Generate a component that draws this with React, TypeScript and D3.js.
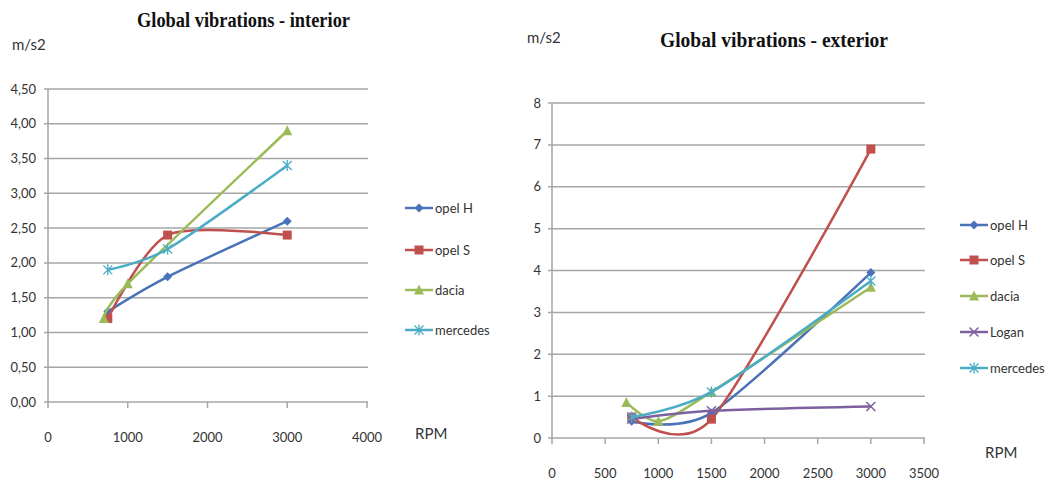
import React from "react";
import * as d3 from "d3";

const seriesNames = ["opel H", "opel S", "dacia", "Logan", "mercedes"];
const seriesColors = ["#4a72b8", "#c0504d", "#9bbb59", "#7d60a0", "#4bacc6"];
const seriesMarkers = ["diamond", "square", "triangle", "x", "star"];

// interior
const intOpelH = [[750, 1.3], [1500, 1.8], [3000, 2.6]];
const intOpelS = [[750, 1.2], [1500, 2.4], [3000, 2.4]];
const intDacia = [[700, 1.2], [1000, 1.7], [3000, 3.9]];
const intMercedes = [[750, 1.9], [1500, 2.2], [3000, 3.4]];
const intYTicks = [0, 0.5, 1, 1.5, 2, 2.5, 3, 3.5, 4, 4.5];
const intXTicks = [0, 1000, 2000, 3000, 4000];

// exterior
const extOpelH = [[750, 0.4], [1500, 0.6], [3000, 3.95]];
const extOpelS = [[750, 0.5], [1500, 0.45], [3000, 6.9]];
const extDacia = [[700, 0.85], [1000, 0.4], [1500, 1.1], [3000, 3.6]];
const extLogan = [[750, 0.45], [1500, 0.65], [3000, 0.75]];
const extMercedes = [[750, 0.5], [1500, 1.1], [3000, 3.75]];
const extYTicks = [0, 1, 2, 3, 4, 5, 6, 7, 8];
const extXTicks = [0, 500, 1000, 1500, 2000, 2500, 3000, 3500];

const tickFont = "Lato, 'Open Sans', sans-serif";
const titleFont = "'Liberation Serif', 'DejaVu Serif', serif";

function Marker({ type, x, y, color }: { type: string; x: number; y: number; color: string }) {
  const s = 4.5;
  if (type === "diamond")
    return <path d={`M${x},${y - s}L${x + s},${y}L${x},${y + s}L${x - s},${y}Z`} fill={color} />;
  if (type === "square")
    return <rect x={x - s} y={y - s} width={2 * s} height={2 * s} fill={color} />;
  if (type === "triangle")
    return <path d={`M${x},${y - s - 1}L${x + s + 0.5},${y + s}L${x - s - 0.5},${y + s}Z`} fill={color} />;
  if (type === "x")
    return (
      <path d={`M${x - s},${y - s}L${x + s},${y + s}M${x - s},${y + s}L${x + s},${y - s}`} stroke={color} strokeWidth={1.5} />
    );
  return (
    <path
      d={`M${x - s},${y - s}L${x + s},${y + s}M${x - s},${y + s}L${x + s},${y - s}M${x},${y - s - 1}L${x},${y + s + 1}`}
      stroke={color}
      strokeWidth={1.3}
    />
  );
}

type Series = { name: string; data: number[][]; idx: number };

function Chart(props: {
  x0: number; x1: number; y0: number; y1: number;
  xMax: number; yMax: number; xTicks: number[]; yTicks: number[];
  yFmt: (v: number) => string; series: Series[];
  title: string; titleX: number; titleY: number; titleW: number;
  unitX: number; unitY: number; legendX: number; legendYs: number[];
  rpmX: number; rpmY: number; xLabelY: number; yLabelX: number; gridRight: number;
}) {
  const x = d3.scaleLinear().domain([0, props.xMax]).range([props.x0, props.x1]);
  const y = d3.scaleLinear().domain([0, props.yMax]).range([props.y0, props.y1]);
  const line = d3
    .line<number[]>()
    .x((d) => x(d[0]))
    .y((d) => y(d[1]))
    .curve(d3.curveCardinal.tension(0.2));
  return (
    <g>
      <text x={props.titleX} y={props.titleY} fontFamily={titleFont} fontWeight="bold" fontSize={20}
        textLength={props.titleW} lengthAdjust="spacingAndGlyphs" fill="#111">{props.title}</text>
      <text x={props.unitX} y={props.unitY} fontFamily={tickFont} fontSize={15} fill="#333">m/s2</text>
      {props.yTicks.map((t) => (
        <g key={t}>
          <line x1={props.x0 - 4} x2={props.gridRight} y1={y(t)} y2={y(t)} stroke="#a6a6a6" strokeWidth={1.5} />
          <text x={props.yLabelX} y={y(t) + 4.5} textAnchor="end" fontFamily={tickFont} fontSize={13} fill="#333">
            {props.yFmt(t)}
          </text>
        </g>
      ))}
      <line x1={props.x0} x2={props.x0} y1={props.y0} y2={y(props.yMax)} stroke="#a6a6a6" strokeWidth={1.5} />
      {props.xTicks.map((t) => (
        <g key={t}>
          <line x1={x(t)} x2={x(t)} y1={props.y0} y2={props.y0 + 6} stroke="#a6a6a6" strokeWidth={1.5} />
          <text x={x(t)} y={props.xLabelY} textAnchor="middle" fontFamily={tickFont} fontSize={13} fill="#333">{t}</text>
        </g>
      ))}
      <text x={props.rpmX} y={props.rpmY} fontFamily={tickFont} fontSize={15} fill="#333">RPM</text>
      {props.series.map((s) => (
        <g key={s.name}>
          <path d={line(s.data) || ""} fill="none" stroke={seriesColors[s.idx]} strokeWidth={2.5} />
          {s.data.map((d, i) => (
            <Marker key={i} type={seriesMarkers[s.idx]} x={x(d[0])} y={y(d[1])} color={seriesColors[s.idx]} />
          ))}
        </g>
      ))}
      {props.series.map((s, i) => (
        <g key={"l" + s.name}>
          <line x1={props.legendX} x2={props.legendX + 28} y1={props.legendYs[i]} y2={props.legendYs[i]}
            stroke={seriesColors[s.idx]} strokeWidth={2.5} />
          <Marker type={seriesMarkers[s.idx]} x={props.legendX + 14} y={props.legendYs[i]} color={seriesColors[s.idx]} />
          <text x={props.legendX + 30} y={props.legendYs[i] + 4.5} fontFamily={tickFont} fontSize={13} fill="#333">
            {s.name}
          </text>
        </g>
      ))}
    </g>
  );
}

export default function App() {
  const fmtComma = (v: number) => v.toFixed(2).replace(".", ",");
  return (
    <svg width={1053} height={486} style={{ position: "absolute", left: 0, top: 0, background: "#fff" }}>
      <rect width={1053} height={486} fill="#fff" />
      <Chart
        x0={48} x1={367} y0={402} y1={89} xMax={4000} yMax={4.5}
        xTicks={intXTicks} yTicks={intYTicks} yFmt={fmtComma}
        series={[
          { name: seriesNames[0], data: intOpelH, idx: 0 },
          { name: seriesNames[1], data: intOpelS, idx: 1 },
          { name: seriesNames[2], data: intDacia, idx: 2 },
          { name: seriesNames[4], data: intMercedes, idx: 4 },
        ]}
        title="Global vibrations - interior" titleX={137} titleY={27} titleW={213}
        unitX={12} unitY={50} legendX={405} legendYs={[208, 250, 290, 330]}
        rpmX={415} rpmY={439} xLabelY={442} yLabelX={36} gridRight={368}
      />
      <Chart
        x0={552} x1={924} y0={438} y1={103} xMax={3500} yMax={8}
        xTicks={extXTicks} yTicks={extYTicks} yFmt={(v) => String(v)}
        series={[
          { name: seriesNames[0], data: extOpelH, idx: 0 },
          { name: seriesNames[1], data: extOpelS, idx: 1 },
          { name: seriesNames[2], data: extDacia, idx: 2 },
          { name: seriesNames[3], data: extLogan, idx: 3 },
          { name: seriesNames[4], data: extMercedes, idx: 4 },
        ]}
        title="Global vibrations - exterior" titleX={660} titleY={47} titleW={228}
        unitX={527} unitY={43} legendX={960} legendYs={[225, 260, 296, 332, 368]}
        rpmX={985} rpmY={458} xLabelY={478} yLabelX={541} gridRight={925}
      />
    </svg>
  );
}
